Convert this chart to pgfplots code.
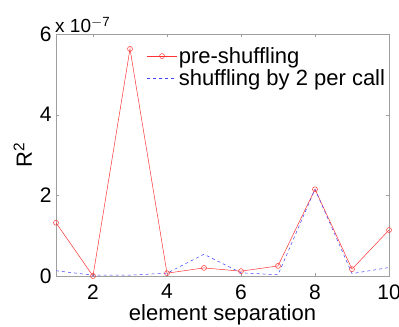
\documentclass[border=0pt]{standalone}
\usepackage{fontspec}
\setmainfont{Liberation Sans}
\usepackage{pgfplots}
\pgfplotsset{compat=1.18}
\begin{document}
\begin{tikzpicture}
\begin{axis}[
  scale only axis, width=333pt, height=242pt,
  xmin=1, xmax=10, ymin=0, ymax=6e-7,
  xtick={2,4,6,8,10}, ytick={0,2e-7,4e-7,6e-7},
  scaled y ticks=base 10:7,
  ytick scale label code/.code={x 10\textsuperscript{$-$7}},
  every y tick scale label/.style={at={(rel axis cs:0,1)}, anchor=south west, inner sep=0pt, yshift=1pt, font=\fontsize{19}{19}\selectfont},
  /pgf/number format/assume math mode=true,
  tick label style={font=\fontsize{21}{21}\selectfont},
  xticklabel style={yshift=-5pt},
  yticklabel style={xshift=-1pt},
  label style={font=\fontsize{22}{22}\selectfont},
  xlabel={element separation}, ylabel={R\textsuperscript{2}},
  xlabel style={yshift=2pt},
  ylabel style={yshift=1pt},
  axis line style={gray!75, line width=0.6pt},
  tick style={gray!75},
  tick align=inside, major tick length=3pt,
  legend style={draw=none, fill=none, at={(rel axis cs:0.272,0.952)}, anchor=north west, font=\fontsize{22}{22}\selectfont, row sep=1.5pt, inner sep=0pt, nodes={inner sep=1.5pt}},
  legend cell align=left,
  legend image code/.code={\draw[mark repeat=2,mark phase=2,#1] plot coordinates {(0pt,0pt) (15pt,0pt) (30pt,0pt)};},
]
\addplot[red!80, line width=0.5pt, mark=o, mark size=2.5pt, mark options={solid}] coordinates {
(1,1.32e-7) (2,0.0) (3,5.63e-7) (4,0.07e-7) (5,0.2e-7) (6,0.12e-7) (7,0.25e-7) (8,2.15e-7) (9,0.17e-7) (10,1.14e-7)};
\addlegendentry{pre-shuffling}
\addplot[blue!75, line width=0.5pt, dashed] coordinates {
(1,0.13e-7) (2,0.02e-7) (3,0.02e-7) (4,0.07e-7) (5,0.54e-7) (6,0.08e-7) (7,0.03e-7) (8,2.15e-7) (9,0.06e-7) (10,0.21e-7)};
\addlegendentry{shuffling by 2 per call}
\end{axis}
\pgfresetboundingbox
\path[use as bounding box] ([shift={(-56pt,-51pt)}]current axis.south west) rectangle ([shift={(10pt,34pt)}]current axis.north east);
\end{tikzpicture}
\end{document}
